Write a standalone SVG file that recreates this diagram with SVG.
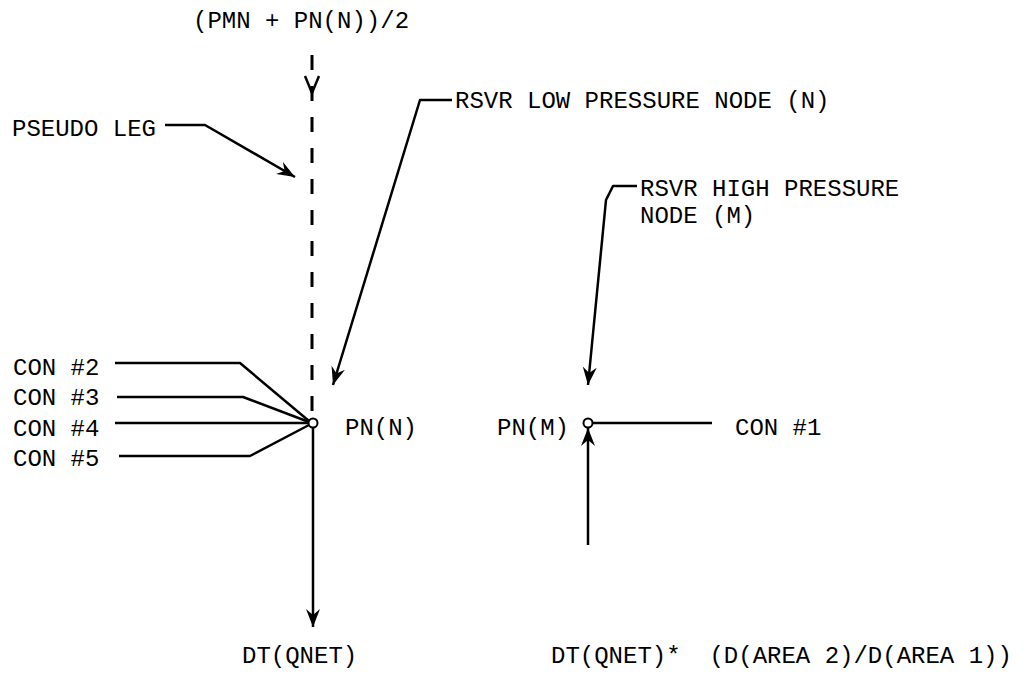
<svg xmlns="http://www.w3.org/2000/svg" width="1023" height="682" viewBox="0 0 1023 682">
<style>
text { font-family: "Liberation Mono", "DejaVu Sans Mono", monospace; font-size: 24px; fill: #000; }
.ln { stroke: #000; stroke-width: 2.5; fill: none; stroke-linejoin: round; }
.dash { stroke: #000; stroke-width: 3; fill: none; stroke-dasharray: 15 16; }
.node { fill: #fff; stroke: #000; stroke-width: 2; }
</style>
<defs>
<marker id="ah" viewBox="0 0 18 14" refX="18" refY="7" markerWidth="18" markerHeight="14" markerUnits="userSpaceOnUse" orient="auto">
<path d="M0,0 L18,7 L0,14 L6,7 Z" fill="#000"/>
</marker>
</defs>
<g id="connectors">
<line class="dash" x1="312" y1="55" x2="312" y2="418"/>
<path class="ln" d="M305,76 L312,93 L319,76"/>
<line class="ln" x1="313" y1="428" x2="313" y2="627" marker-end="url(#ah)"/>
<polyline class="ln" points="115,363 240,363 309,421"/>
<polyline class="ln" points="117,397 243,397 309,422"/>
<polyline class="ln" points="115,423 308,423"/>
<polyline class="ln" points="119,456 250,456 309,425"/>
<polyline class="ln" points="165,125 205,125 295,177" marker-end="url(#ah)"/>
<polyline class="ln" points="452,100 420,100 333,385" marker-end="url(#ah)"/>
<polyline class="ln" points="637,186 613,186 606,200 588,385" marker-end="url(#ah)"/>
<line class="ln" x1="592" y1="423" x2="712" y2="423"/>
<line class="ln" x1="588" y1="545" x2="588" y2="428" marker-end="url(#ah)"/>
</g>
<g id="title"><text x="193" y="28">(PMN + PN(N))/2</text></g>
<g id="pseudo-leg"><text x="12" y="136">PSEUDO LEG</text></g>
<g id="rsvr-low"><text x="455" y="108">RSVR LOW PRESSURE NODE (N)</text></g>
<g id="rsvr-high"><text x="640" y="196">RSVR HIGH PRESSURE</text><text x="640" y="223">NODE (M)</text></g>
<g id="con2"><text x="13" y="375">CON #2</text></g>
<g id="con3"><text x="13" y="405">CON #3</text></g>
<g id="con4"><text x="13" y="436">CON #4</text></g>
<g id="con5"><text x="13" y="466">CON #5</text></g>
<g id="node-n"><circle class="node" cx="313" cy="423" r="4.5"/><text x="345" y="435">PN(N)</text></g>
<g id="node-m"><circle class="node" cx="588" cy="423" r="4.5"/><text x="497" y="435">PN(M)</text></g>
<g id="con1"><text x="735" y="435">CON #1</text></g>
<g id="dt-qnet"><text x="242" y="663">DT(QNET)</text></g>
<g id="dt-qnet-area"><text x="551" y="663" xml:space="preserve">DT(QNET)*  (D(AREA 2)/D(AREA 1))</text></g>
</svg>
